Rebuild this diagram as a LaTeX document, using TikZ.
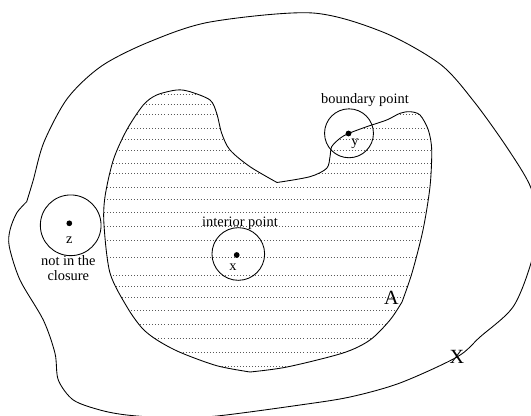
\documentclass[tikz,border=0pt]{standalone}
\usepackage{fontspec}
\setmainfont{Liberation Serif}

\newcommand{\regionA}{plot[smooth] coordinates {(277,182.5) (250,166.7) (230,150) (221.7,133.3) (216.7,113.3) (210,100) (190,91.7) (176.7,90) (156.7,95) (143.3,105) (126.7,130) (113.3,160) (105,196.7) (104,225) (110,273) (127,307) (142,328) (157,340) (180,352.3) (216.7,365.7) (250,372)}
  -- plot[smooth] coordinates {(250,372) (287,367) (343,353) (370,340) (390,320) (402,302)}
  -- plot[smooth] coordinates {(402,302) (412,273) (423,230) (430,186.7) (431.7,150) (428.3,130) (420,115) (410,111.7) (400,113.3) (386.7,120) (366.7,126.7) (348.5,133.5) (340,138.3) (331.7,146.7) (330,156.7) (326.7,168.3) (310,176.7) (277,182.5)}
  -- cycle}

\begin{document}
\begin{tikzpicture}[x=0.695pt, y=-0.695pt, line width=0.6pt,
    hatch/.style={black!65, line width=0.5pt, dash pattern=on 0.6pt off 1.5pt},
    pt/.style={circle, fill, inner sep=0pt, minimum size=4pt},
    nbhd/.style={circle, draw, inner sep=0pt},
    lbl/.style={font=\fontsize{10}{10.2}\selectfont, inner sep=0pt},
    big/.style={font=\fontsize{14}{16}\selectfont, inner sep=0pt}]
          \clip (0,0) rectangle (531,416);

          \coordinate (xc) at (236.7,255);
          \coordinate (yc) at (348.5,133.5);
          \coordinate (zc) at (69.3,223.3);

          \begin{scope}
            \clip \regionA;
            \foreach \h in {94,104,114,128,139,150,163,173,187,199,212,226,240,257,275,286,297,310,324,338,352,366}
              \draw[hatch] (95,\h) -- (440,\h);
          \end{scope}

          \draw \regionA;

          \draw plot[smooth] coordinates {(26.7,201.7) (33.3,180) (44,142) (67.7,98) (101.6,66) (149,42) (210,22) (311.5,12.9) (382.7,32) (440,64) (474,101.6) (508,149) (531,188) (537,225) (531,263) (513,307) (480,337) (457,357) (400,383) (350,397) (300,405) (217,416) (170,418) (126.7,415) (100,410) (73.3,400) (58.3,380) (55,353.3) (43.3,320) (20,280) (9.3,246.7) (10,230) (16.7,213) (26.7,201.7)};

          \node[nbhd, minimum size=36.6pt] (ballx) at (238.3,254) {};
          \node[nbhd, minimum size=34pt] (bally) at (349,133.3) {};
          \node[nbhd, minimum size=42.2pt] (ballz) at (70.7,225.3) {};

          \node[pt] (ptx) at (xc) {};
          \node[pt] (pty) at (yc) {};
          \node[pt] (ptz) at (zc) {};

          \node[lbl] (labx) at (233,267) {x};
          \node[lbl] (laby) at (355,143.3) {y};
          \node[lbl] (labz) at (69.3,240) {z};

          \node[lbl] (interior) at (240,223) {interior point};
          \node[lbl] (boundary) at (365,100) {boundary point};
          \node[lbl, align=center] (closure) at (68.3,268.3) {not in the\\closure};

          \node[big] (labA) at (391.5,297.5) {A};
          \node[big] (labX) at (457,357) {X};

          \end{tikzpicture}
\end{document}
